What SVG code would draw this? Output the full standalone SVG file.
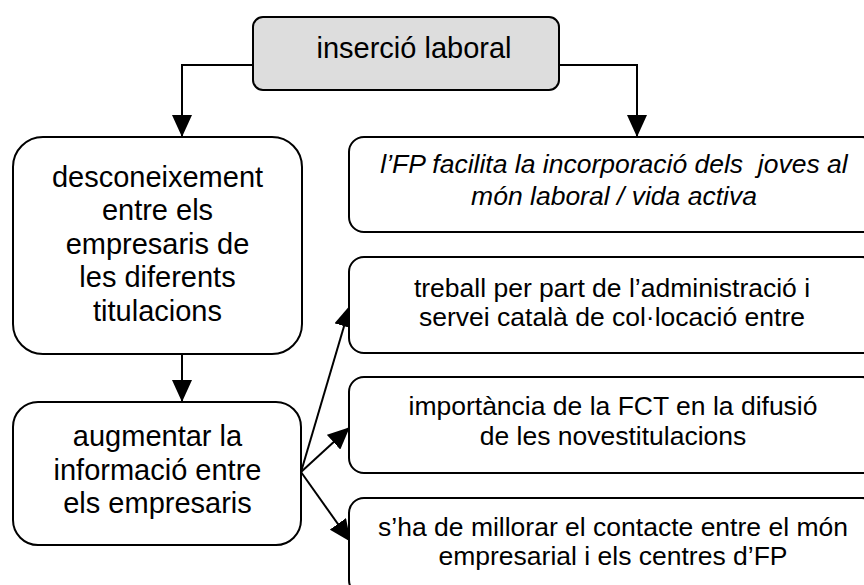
<svg xmlns="http://www.w3.org/2000/svg" width="864" height="585" viewBox="0 0 864 585">
<style>
.box{fill:#ffffff;stroke:#000000;stroke-width:2}
.gray{fill:#dddddd}
.t{font-family:"Liberation Sans",Arial,sans-serif;fill:#000000;text-anchor:middle}
.big{font-size:29px}
.top{font-size:29px}
.sm{font-size:26.5px}
.it{font-style:italic}
.con{fill:none;stroke:#000000;stroke-width:2}
</style>
<defs>
<marker id="ah" markerUnits="userSpaceOnUse" markerWidth="22" markerHeight="20" refX="21" refY="10" orient="auto" viewBox="0 0 22 20">
<path d="M0,0 L22,10 L0,20 z" fill="#000000"/>
</marker>
</defs>
<rect x="0" y="0" width="864" height="585" fill="#ffffff"/>
<g id="connectors">
<path class="con" d="M253,65 H182 V136" marker-end="url(#ah)"/>
<path class="con" d="M559,65 H637 V136" marker-end="url(#ah)"/>
<path class="con" d="M182,354 V401" marker-end="url(#ah)"/>
<path class="con" d="M301,472 L350,306" marker-end="url(#ah)"/>
<path class="con" d="M301,472 L349,428" marker-end="url(#ah)"/>
<path class="con" d="M301,472 L350,541" marker-end="url(#ah)"/>
</g>
<g id="n-insercio">
<rect class="box gray" x="253" y="17" width="306" height="73" rx="10" ry="10"/>
<text class="t top" x="414" y="58">inserció laboral</text>
</g>
<g id="n-desconeixement">
<rect class="box" x="13" y="137" width="289" height="217" rx="30" ry="30"/>
<text class="t big" x="157.5" y="186.5">desconeixement</text>
<text class="t big" x="157.5" y="220">entre els</text>
<text class="t big" x="157.5" y="253.5">empresaris de</text>
<text class="t big" x="157.5" y="287">les diferents</text>
<text class="t big" x="157.5" y="320.5">titulacions</text>
</g>
<g id="n-augmentar">
<rect class="box" x="13" y="402" width="288" height="143" rx="25" ry="25"/>
<text class="t big" x="157.5" y="446">augmentar la</text>
<text class="t big" x="157.5" y="479.5">informació entre</text>
<text class="t big" x="157.5" y="513">els empresaris</text>
</g>
<g id="n-fp">
<rect class="box" x="349" y="137" width="528" height="95" rx="15" ry="15"/>
<text class="t sm it" x="614" y="173" xml:space="preserve">l’FP facilita la incorporació dels  joves al</text>
<text class="t sm it" x="614" y="205">món laboral / vida activa</text>
</g>
<g id="n-treball">
<rect class="box" x="349" y="257" width="528" height="96" rx="15" ry="15"/>
<text class="t sm" x="612" y="297">treball per part de l’administració i</text>
<text class="t sm" x="612" y="325.5">servei català de col·locació entre</text>
</g>
<g id="n-fct">
<rect class="box" x="349" y="377" width="528" height="96" rx="15" ry="15"/>
<text class="t sm" x="613" y="415">importància de la FCT en la difusió</text>
<text class="t sm" x="613" y="445">de les novestitulacions</text>
</g>
<g id="n-contacte">
<rect class="box" x="349" y="498" width="528" height="97" rx="15" ry="15"/>
<text class="t sm" x="613" y="536">s’ha de millorar el contacte entre el món</text>
<text class="t sm" x="613" y="565">empresarial i els centres d’FP</text>
</g>
</svg>
